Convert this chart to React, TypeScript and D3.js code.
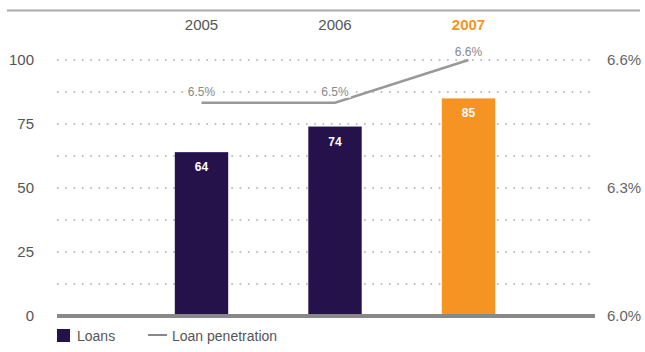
import React from "react";
import * as d3 from "d3";

const years = ["2005", "2006", "2007"];
const loans = [64, 74, 85];
const penetration = [6.5, 6.5, 6.6];
const leftTicks = [0, 25, 50, 75, 100];
const rightTicks = [6.0, 6.3, 6.6];
const gridValues = [12.5, 25, 37.5, 50, 62.5, 75, 87.5, 100];

const W = 645;
const H = 352;
const FONT = "'Liberation Sans', Arial, sans-serif";
const DARK = "#26124a";
const ORANGE = "#f59422";

export default function App() {
  const y = d3.scaleLinear().domain([0, 100]).range([316, 60]);
  const yR = d3.scaleLinear().domain([6.0, 6.6]).range([316, 60]);
  const x = d3
    .scaleBand<string>()
    .domain(years)
    .range([134.75, 535.25])
    .paddingInner(0.6)
    .paddingOuter(0.3);
  const cx = (d: string) => (x(d) ?? 0) + x.bandwidth() / 2;
  const line = d3
    .line<number>()
    .x((_, i) => cx(years[i]))
    .y((v) => yR(v));

  return (
    <svg
      width={W}
      height={H}
      style={{ position: "absolute", left: 0, top: 0, background: "#fff" }}
      fontFamily={FONT}
    >
      <line x1={7} x2={640} y1={10.5} y2={10.5} stroke="#aaa" strokeWidth={2} />
      {years.map((yr, i) => (
        <text
          key={yr}
          x={cx(yr)}
          y={30}
          textAnchor="middle"
          fontSize={15}
          fill={i === 2 ? ORANGE : "#555"}
          fontWeight={i === 2 ? "bold" : "normal"}
        >
          {yr}
        </text>
      ))}
      {gridValues.map((g) => (
        <line
          key={g}
          x1={57}
          x2={595}
          y1={y(g)}
          y2={y(g)}
          stroke="#aaa"
          strokeWidth={1.6}
          strokeDasharray="1.6,6.7"
        />
      ))}
      {leftTicks.map((t) => (
        <text key={t} x={34} y={y(t) + 5} textAnchor="end" fontSize={15} fill="#555">
          {t}
        </text>
      ))}
      {rightTicks.map((t) => (
        <text key={t} x={607} y={yR(t) + 5} fontSize={15} fill="#666">
          {t.toFixed(1)}%
        </text>
      ))}
      {years.map((yr, i) => (
        <g key={yr}>
          <rect
            x={x(yr)}
            y={y(loans[i])}
            width={x.bandwidth()}
            height={y(0) - y(loans[i])}
            fill={i === 2 ? ORANGE : DARK}
          />
          <text
            x={cx(yr)}
            y={y(loans[i]) + 19}
            textAnchor="middle"
            fontSize={12}
            fontWeight="bold"
            fill="#fff"
          >
            {loans[i]}
          </text>
        </g>
      ))}
      <line x1={57} x2={595} y1={316} y2={316} stroke="#888" strokeWidth={4} />
      <path d={line(penetration) ?? ""} fill="none" stroke="#999" strokeWidth={2.5} />
      {years.map((yr, i) => {
        const ly = i === 2 ? yR(penetration[i]) - 8 : yR(penetration[i]) - 11;
        return (
          <g key={yr}>
            <rect x={cx(yr) - 16} y={ly - 7} width={32} height={13} fill="#fff" />
            <text x={cx(yr)} y={ly + 4} textAnchor="middle" fontSize={12} fill="#888">
              {penetration[i].toFixed(1)}%
            </text>
          </g>
        );
      })}
      <rect x={57} y={329} width={13} height={13} fill={DARK} />
      <text x={77} y={341} fontSize={14} fill="#555">
        Loans
      </text>
      <line x1={148} x2={167} y1={335} y2={335} stroke="#888" strokeWidth={2} />
      <text x={172} y={341} fontSize={14} fill="#555">
        Loan penetration
      </text>
    </svg>
  );
}
